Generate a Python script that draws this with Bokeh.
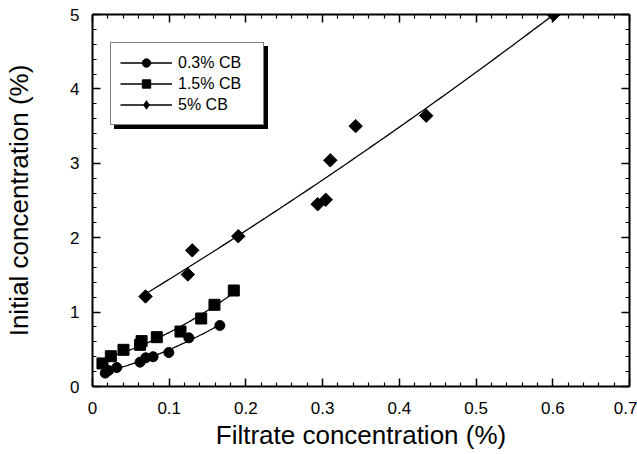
import numpy as np
from bokeh.plotting import figure
from bokeh.models import (Range1d, LinearAxis, Legend, LegendItem, FixedTicker,
                          CustomJSTickFormatter)
from bokeh.embed import file_html
from bokeh.resources import INLINE

# ---------------- data ----------------
x_cb03 = [0.0166, 0.0209, 0.0317, 0.062, 0.0695, 0.079, 0.0995, 0.1256, 0.166]
y_cb03 = [0.18, 0.215, 0.255, 0.327, 0.386, 0.40, 0.457, 0.654, 0.82]

x_cb15 = [0.013, 0.0239, 0.0404, 0.062, 0.064, 0.0838, 0.1147, 0.1417, 0.159, 0.1842]
y_cb15 = [0.31, 0.407, 0.493, 0.56, 0.61, 0.663, 0.739, 0.914, 1.098, 1.29]

x_cb5 = [0.0691, 0.1243, 0.13, 0.190, 0.2935, 0.304, 0.310, 0.343, 0.435, 0.601]
y_cb5 = [1.21, 1.505, 1.83, 2.02, 2.45, 2.51, 3.04, 3.50, 3.64, 5.00]

series_labels = ["0.3% CB", "1.5% CB", "5% CB"]

x_ticks = [0, 0.1, 0.2, 0.3, 0.4, 0.5, 0.6, 0.7]
x_tick_labels = ["0", "0.1", "0.2", "0.3", "0.4", "0.5", "0.6", "0.7"]
y_ticks = [0, 1, 2, 3, 4, 5]
y_tick_labels = ["0", "1", "2", "3", "4", "5"]

x_title = "Filtrate concentration (%)"
y_title = "Initial concentration (%)"

FONT = "Liberation Sans"

p = figure(width=637, height=454, x_range=Range1d(0, 0.7), y_range=Range1d(0, 5),
           output_backend="svg", toolbar_location=None,
           min_border_left=92, min_border_right=8, min_border_top=14,
           min_border_bottom=68)
p.grid.visible = False
p.outline_line_color = None
p.background_fill_color = "white"
p.border_fill_color = "white"


def minor_of(ticks, n):
    out = []
    for a, b in zip(ticks[:-1], ticks[1:]):
        out.extend(list(np.linspace(a, b, n + 1)[1:-1]))
    return out


xt = FixedTicker(ticks=x_ticks, minor_ticks=minor_of(x_ticks, 5))
yt = FixedTicker(ticks=y_ticks, minor_ticks=minor_of(y_ticks, 5))

p.add_layout(LinearAxis(), "above")
p.add_layout(LinearAxis(), "right")

for ax in p.axis:
    ax.axis_line_width = 2
    ax.axis_line_color = "black"
    ax.major_tick_line_color = "black"
    ax.minor_tick_line_color = "black"
    ax.major_tick_line_width = 1.5
    ax.minor_tick_line_width = 1.2
    ax.major_tick_in = 8
    ax.major_tick_out = 0
    ax.minor_tick_in = 4
    ax.minor_tick_out = 0
    ax.major_label_text_font = FONT
    ax.major_label_text_font_size = "17px"
    ax.major_label_text_color = "black"
    ax.axis_label_text_font = FONT
    ax.axis_label_text_font_size = "26px"
    ax.axis_label_text_font_style = "normal"
    ax.axis_label_text_color = "black"

for ax in p.xaxis:
    ax.ticker = xt
    ax.major_label_overrides = dict(zip(x_ticks, x_tick_labels))
for ax in p.yaxis:
    ax.ticker = yt
    ax.major_label_overrides = dict(zip(y_ticks, y_tick_labels))

p.below[0].axis_label = x_title
p.below[0].major_label_standoff = 15
p.below[0].axis_label_standoff = 3
p.left[0].axis_label = y_title
p.left[0].major_label_standoff = 13
p.left[0].axis_label_standoff = 33

for ax in (p.above[0], p.right[0]):
    ax.major_label_overrides = {}
    ax.formatter = CustomJSTickFormatter(code="return ''")
    ax.major_label_standoff = 0

# ---------------- series ----------------
def fit_curve(xs, ys):
    c = np.polyfit(xs, ys, 2)
    xx = np.linspace(min(xs), max(xs), 80)
    return xx, np.polyval(c, xx)


items = []
shadow_items = []
specs = [
    (x_cb03, y_cb03, "circle", 10, 0.0, "circle"),
    (x_cb15, y_cb15, "square", 11, 0.0, "square"),
    (x_cb5, y_cb5, "square", 9.5, np.pi / 4, "diamond"),
]
for (xs, ys, mk, sz, ang, legmk), lab in zip(specs, series_labels):
    fx, fy = fit_curve(xs, ys)
    lr = p.line(fx, fy, line_color="black", line_width=1.3)
    sr = p.scatter(xs, ys, marker=mk, size=sz, angle=ang,
                   fill_color="black", line_color="black")
    if legmk == mk and ang == 0:
        leg_r = sr
    else:
        leg_r = p.scatter(x=[np.nan], y=[np.nan], marker=legmk, size=sz,
                          fill_color="black", line_color="black")
    items.append(LegendItem(label=lab, renderers=[lr, leg_r]))
    shadow_items.append(LegendItem(label="", renderers=[lr]))

common = dict(orientation="vertical", padding=9, spacing=0, margin=0,
              glyph_width=52, glyph_height=21, label_height=21, label_width=76,
              label_standoff=6, label_text_font=FONT, label_text_font_size="16px",
              border_line_color="black", border_line_width=1.5,
              background_fill_alpha=1)

shadow = Legend(items=shadow_items, location=(22, 257), background_fill_color="black",
                label_text_color="black", **common)
legend = Legend(items=items, location=(18, 261), background_fill_color="white",
                label_text_color="black", **common)
p.add_layout(shadow, "center")
p.add_layout(legend, "center")

open("out.html", "w").write(file_html(p, INLINE))
